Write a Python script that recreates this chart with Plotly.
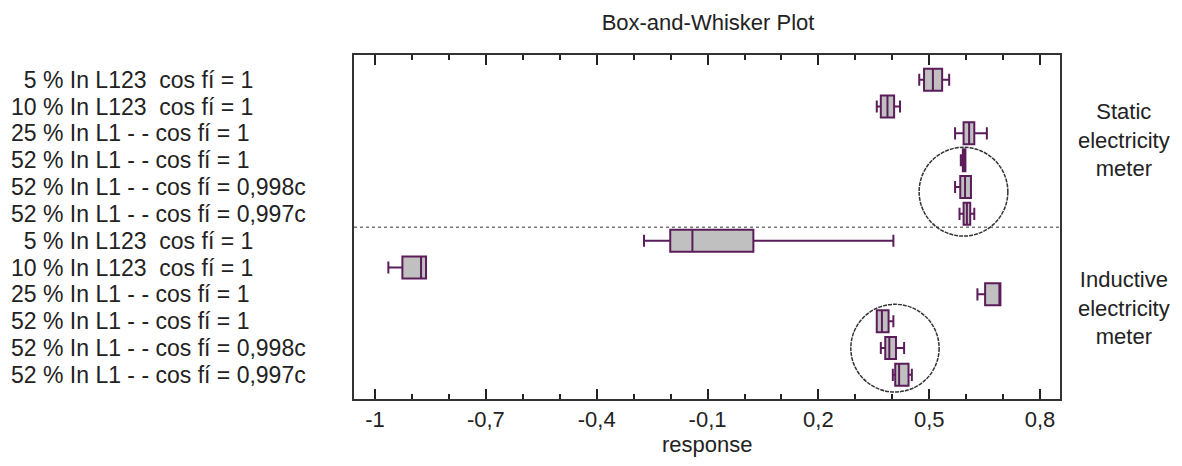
import plotly.graph_objects as go

# ---- data ----
row_labels = [
    "\u00a0\u00a05 % In L123\u00a0\u00a0cos fí = 1",
    "10 % In L123\u00a0\u00a0cos fí = 1",
    "25 % In L1 - - cos fí = 1",
    "52 % In L1 - - cos fí = 1",
    "52 % In L1 - - cos fí = 0,998c",
    "52 % In L1 - - cos fí = 0,997c",
    "\u00a0\u00a05 % In L123\u00a0\u00a0cos fí = 1",
    "10 % In L123\u00a0\u00a0cos fí = 1",
    "25 % In L1 - - cos fí = 1",
    "52 % In L1 - - cos fí = 1",
    "52 % In L1 - - cos fí = 0,998c",
    "52 % In L1 - - cos fí = 0,997c",
]
row_pos = list(range(12))
lower_fence = [0.473, 0.358, 0.570, 0.5855, 0.570, 0.582, -0.272, -0.964, 0.6305, 0.358, 0.369, 0.4015]
q1 =          [0.486, 0.369, 0.593, 0.591, 0.584, 0.593, -0.201, -0.926, 0.6513, 0.358, 0.381, 0.408]
median =      [0.510, 0.387, 0.608, 0.595, 0.597, 0.602, -0.141, -0.8755, 0.6927, 0.372, 0.392, 0.4185]
q3 =          [0.535, 0.405, 0.622, 0.598, 0.613, 0.611, 0.024, -0.862, 0.6927, 0.390, 0.410, 0.444]
upper_fence = [0.554, 0.421, 0.656, 0.598, 0.613, 0.622, 0.403, -0.862, 0.6927, 0.403, 0.432, 0.453]

x_tickvals = [-1, -0.7, -0.4, -0.1, 0.2, 0.5, 0.8]
x_ticktext = ["-1", "-0,7", "-0,4", "-0,1", "0,2", "0,5", "0,8"]

group_labels = ["Static<br>electricity<br>meter", "Inductive<br>electricity<br>meter"]
group_label_rows = [2.25, 8.5]
divider_row = 5.5

# highlight circles (x0, x1, y0, y1) in data units
circles = [
    (0.4727, 0.7128, 2.52, 5.83),
    (0.2878, 0.5268, 8.37, 11.64),
]

FONT = "Liberation Sans, Arial, sans-serif"
LINE = "#5a1d5a"
TXT = "#222222"

# page body has an 8px margin; figure is sized to fit the 1182x466 window
OFF = 8
W, H = 1182 - 2 * OFF, 466 - 2 * OFF
PL, PR, PT, PB = 354, 1060, 55, 399  # plot area in page pixels
PW = PR - PL
PH = PB - PT

fig = go.Figure()
fig.add_trace(go.Box(
    y=row_pos, q1=q1, median=median, q3=q3,
    lowerfence=lower_fence, upperfence=upper_fence,
    orientation="h", width=0.82, whiskerwidth=0.55,
    fillcolor="#c0c0c0", line=dict(color=LINE, width=2),
    boxpoints=False, showlegend=False, hoverinfo="skip",
))

shapes = []
shapes.append(dict(type="line", xref="paper", yref="y", x0=0, x1=1,
                   y0=divider_row, y1=divider_row,
                   line=dict(color="#777777", width=1.5, dash="dot")))
for (cx0, cx1, cy0, cy1) in circles:
    shapes.append(dict(type="circle", xref="x", yref="y",
                       x0=cx0, x1=cx1, y0=cy0, y1=cy1,
                       line=dict(color="#333333", width=1.5, dash="4px,1px")))

annotations = []
for lab, pos in zip(row_labels, row_pos):
    annotations.append(dict(text=lab, xref="paper", yref="y",
                            x=(9 - PL) / PW, y=pos, xanchor="left",
                            yanchor="middle", showarrow=False,
                            font=dict(family=FONT, size=23, color=TXT)))
for lab, pos in zip(group_labels, group_label_rows):
    annotations.append(dict(text=lab, xref="paper", yref="y",
                            x=(1124 - PL) / PW, y=pos, xanchor="center",
                            yanchor="middle", showarrow=False, align="center",
                            font=dict(family=FONT, size=22, color=TXT)))
annotations.append(dict(text="response", xref="paper", yref="paper",
                        x=(707 - PL) / PW, y=(PB - (H + OFF)) / PH,
                        xanchor="center", yanchor="bottom", showarrow=False,
                        borderpad=0,
                        font=dict(family=FONT, size=22, color=TXT)))

fig.update_layout(
    width=W, height=H,
    margin=dict(l=PL - OFF, r=W - (PR - OFF), t=PT - OFF, b=H - (PB - OFF),
                autoexpand=False),
    paper_bgcolor="white", plot_bgcolor="white",
    font=dict(family=FONT, size=22, color=TXT),
    title=dict(text="Box-and-Whisker Plot", x=(708 - OFF) / W, xanchor="center",
               y=1 - (22 - OFF) / H, yanchor="middle",
               font=dict(family=FONT, size=22, color=TXT)),
    shapes=shapes, annotations=annotations,
    showlegend=False,
)
fig.update_xaxes(
    range=[-1.057, 0.854], tickvals=x_tickvals, ticktext=x_ticktext,
    ticks="inside", ticklen=10, tickwidth=2, tickcolor=TXT,
    minor=dict(ticks="inside", dtick=0.1, tick0=-1, ticklen=5, tickwidth=2, tickcolor=TXT),
    showline=True, linecolor="#333333", linewidth=2, mirror="ticks",
    showgrid=False, zeroline=False, automargin=False,
    tickfont=dict(family=FONT, size=22),
)
fig.update_yaxes(
    range=[11.9, -0.92], showticklabels=False, ticks="",
    showline=True, linecolor="#333333", linewidth=2, mirror=True,
    showgrid=False, zeroline=False, automargin=False,
)

fig.write_html("out.html")
